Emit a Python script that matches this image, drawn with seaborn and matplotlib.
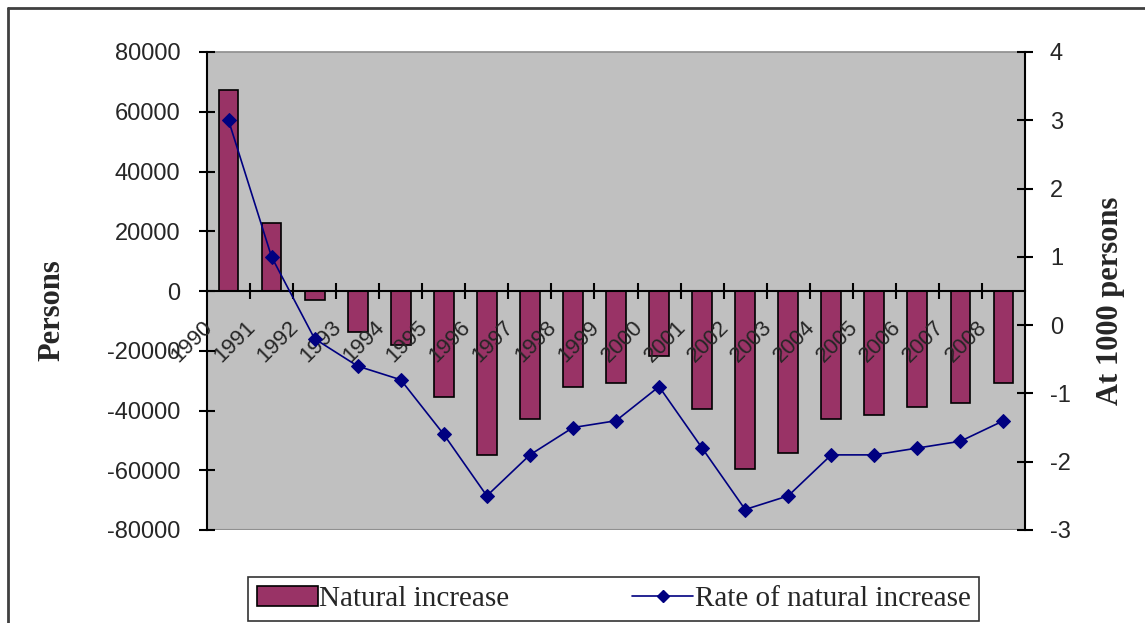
import matplotlib
matplotlib.use("Agg")
import matplotlib.pyplot as plt
import matplotlib.patches as mpatches
import matplotlib.lines as mlines
import seaborn as sns
import numpy as np
import pandas as pd

# data
years = [str(y) for y in range(1990, 2009)]
natural_increase = [67300, 22800, -3000, -13600, -18000, -35500, -55000, -42800,
                    -32200, -30800, -21800, -39500, -59600, -54300, -42800,
                    -41500, -38800, -37500, -30800]
rate_increase = [3.0, 1.0, -0.2, -0.6, -0.8, -1.6, -2.5, -1.9, -1.5, -1.4, -0.9,
                 -1.8, -2.7, -2.5, -1.9, -1.9, -1.8, -1.7, -1.4]
left_ticks = [80000, 60000, 40000, 20000, 0, -20000, -40000, -60000, -80000]
right_ticks = [4, 3, 2, 1, 0, -1, -2, -3]

bar_color = "#993366"
line_color = "#000080"

sns.set_theme(style="white")
plt.rcParams["font.family"] = ["Liberation Sans", "DejaVu Sans"]

W, H = 1145, 623
fig = plt.figure(figsize=(W / 100, H / 100), dpi=100)
ax = fig.add_axes([207 / W, 1 - 530 / H, (1025 - 207) / W, (530 - 52) / H])
ax.set_facecolor("#C0C0C0")

df = pd.DataFrame({"year": years, "value": natural_increase})
sns.barplot(data=df, x="year", y="value", color=bar_color, saturation=1,
            width=0.46, edgecolor="black", linewidth=1.2, ax=ax)
n = len(years)
ax.set_xlim(-0.5, n - 0.5)
ax.set_ylim(-80000, 80000)
ax.set_axisbelow(False)
ax.set_yticks(left_ticks)
ax.set_yticklabels([str(v) for v in left_ticks], fontsize=17)
ax.set_xlabel("")
ax.set_ylabel("Persons", fontsize=22, fontweight="bold",
              family=["Liberation Serif"])
ax.yaxis.set_label_coords(-0.172, 0.46)

# x axis sits at zero, tick marks between categories
ax.spines["bottom"].set_position(("data", 0))
ax.spines["bottom"].set_linewidth(1.5)
ax.spines["bottom"].set_color("black")
ax.spines["left"].set_color("black")
ax.spines["left"].set_linewidth(1.5)
ax.spines["top"].set_color("#909090")
ax.spines["right"].set_visible(False)
ax.axhline(-80000, color="#909090", lw=1.5)
ax.set_xticks(np.arange(n - 1) + 0.5)
ax.set_xticklabels([])
ax.set_xticks(np.arange(n) - 0.45, minor=True)
ax.set_xticklabels(years, minor=True, fontsize=16, rotation=45,
                   ha="right", va="center", rotation_mode="anchor")
ax.tick_params(axis="x", which="major", direction="inout", length=11,
               width=1.5, color="black", bottom=True)
ax.tick_params(axis="x", which="minor", length=0, pad=24, bottom=True)
ax.tick_params(axis="y", direction="inout", length=12, width=1.5,
               color="black", left=True, pad=13)

ax2 = ax.twinx()
sns.lineplot(x=np.arange(n), y=rate_increase, color=line_color, lw=1.2,
             marker="D", markersize=7, markeredgecolor=line_color, ax=ax2)
ax2.set_xlim(-0.5, n - 0.5)
ax2.set_ylim(-3, 4)
ax2.set_yticks(right_ticks)
ax2.set_yticklabels([str(v) for v in right_ticks], fontsize=17)
ax2.set_ylabel("At 1000 persons", fontsize=22, fontweight="bold",
               family=["Liberation Serif"])
ax2.yaxis.set_label_coords(1.087, 0.48)
for s in ["left", "top", "bottom"]:
    ax2.spines[s].set_visible(False)
ax2.spines["right"].set_color("black")
ax2.spines["right"].set_linewidth(1.5)
ax2.tick_params(axis="y", direction="inout", length=12, width=1.5,
                color="black", right=True, pad=12)

# legend
h1 = mpatches.Patch(facecolor=bar_color, edgecolor="black", linewidth=1.2,
                    label="Natural increase")
h2 = mlines.Line2D([], [], color=line_color, lw=1.2, marker="D", markersize=6,
                   label="Rate of natural increase")
leg = fig.legend(handles=[h1, h2], loc="lower left",
                 bbox_to_anchor=(248 / W, 1 - 621 / H), ncol=2,
                 prop={"family": "Liberation Serif", "size": 21},
                 frameon=True, fancybox=False, edgecolor="black",
                 handlelength=2.1, handletextpad=0.05, columnspacing=4.2,
                 borderpad=0.3, borderaxespad=0)
leg.get_frame().set_linewidth(1.2)

# outer chart border (top and left visible)
fig.add_artist(mlines.Line2D([8 / W, 8 / W], [0, 1 - 8 / H],
                             transform=fig.transFigure, color="#404040", lw=2))
fig.add_artist(mlines.Line2D([8 / W, 1], [1 - 8 / H, 1 - 8 / H],
                             transform=fig.transFigure, color="#404040", lw=2))

fig.savefig("out.png", dpi=100)
